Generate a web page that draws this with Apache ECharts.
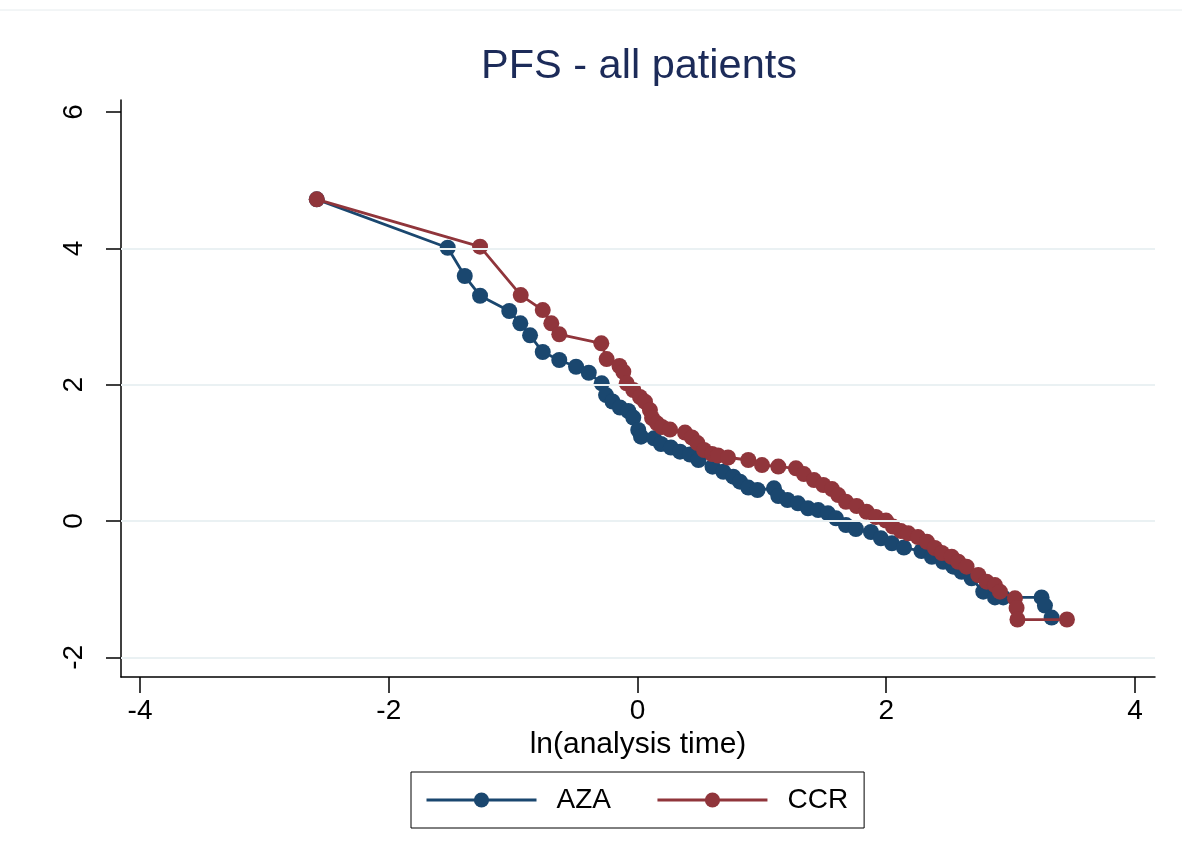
<!DOCTYPE html>
<html>
<head>
<meta charset="utf-8">
<script src="https://cdn.jsdelivr.net/npm/echarts@6/dist/echarts.min.js"></script>
<style>
html,body{margin:0;padding:0;background:#fff;}
#c{width:1182px;height:862px;}
</style>
</head>
<body>
<div id="c"></div>
<script>
// ---- data (ln(analysis time), log-log survival) ----
const azaX = [-2.579,-1.526,-1.389,-1.266,-1.031,-0.942,-0.864,-0.762,-0.629,-0.494,-0.392,-0.288,-0.253,-0.201,-0.141,-0.074,-0.034,0.006,0.028,0.133,0.189,0.269,0.342,0.422,0.490,0.603,0.690,0.770,0.824,0.891,0.965,1.097,1.132,1.206,1.290,1.371,1.453,1.531,1.596,1.676,1.756,1.877,1.957,2.046,2.142,2.283,2.367,2.458,2.539,2.606,2.686,2.780,2.874,2.941,3.249,3.276,3.330];
const azaY = [4.719,4.009,3.594,3.305,3.081,2.900,2.724,2.479,2.362,2.263,2.175,2.020,1.848,1.753,1.665,1.614,1.518,1.335,1.237,1.213,1.130,1.078,1.017,0.976,0.895,0.797,0.723,0.650,0.577,0.491,0.455,0.480,0.367,0.308,0.260,0.186,0.161,0.113,0.040,-0.059,-0.117,-0.161,-0.254,-0.327,-0.389,-0.440,-0.524,-0.597,-0.670,-0.744,-0.841,-1.037,-1.120,-1.120,-1.120,-1.240,-1.416];
const ccrX = [-2.579,-1.266,-0.939,-0.762,-0.693,-0.629,-0.291,-0.248,-0.145,-0.114,-0.087,-0.034,0.020,0.060,0.100,0.117,0.157,0.197,0.261,0.382,0.438,0.482,0.535,0.599,0.647,0.728,0.891,1.001,1.132,1.274,1.338,1.419,1.494,1.564,1.614,1.676,1.762,1.842,1.917,1.998,2.054,2.118,2.177,2.255,2.327,2.391,2.448,2.526,2.579,2.646,2.740,2.807,2.874,2.914,3.035,3.048,3.055,3.453];
const ccrY = [4.719,4.024,3.315,3.095,2.900,2.739,2.607,2.376,2.274,2.190,2.020,1.922,1.819,1.750,1.628,1.511,1.433,1.379,1.342,1.298,1.225,1.144,1.042,0.983,0.961,0.932,0.895,0.821,0.799,0.773,0.689,0.601,0.528,0.469,0.381,0.283,0.220,0.136,0.059,0.007,-0.081,-0.147,-0.180,-0.235,-0.304,-0.396,-0.469,-0.524,-0.597,-0.670,-0.792,-0.890,-0.939,-1.037,-1.134,-1.276,-1.445,-1.445];
const xTicks = [-4,-2,0,2,4];
const yTicks = [-2,0,2,4,6];
const yGrid = [-2,0,2,4];
const seriesNames = ['AZA','CCR'];
const titleText = 'PFS - all patients';
const xTitle = 'ln(analysis time)';

const FONT = '"Liberation Sans", Arial, Helvetica, sans-serif';
const BLUE = '#1a476f', RED = '#90353b';
const pairs = (xs, ys) => xs.map((v, i) => [v, ys[i]]);

const chart = echarts.init(document.getElementById('c'), null, {renderer: 'canvas'});
chart.setOption({
  backgroundColor: '#fff',
  animation: false,
  graphic: [
    {type: 'line', shape: {x1: 0, y1: 10, x2: 1182, y2: 10}, style: {stroke: '#e6ecee', lineWidth: 1}, silent: true},
    {type: 'text', x: 639, y: 46, style: {text: titleText, fill: '#1c2b59', font: '41.5px ' + FONT, textAlign: 'center', textVerticalAlign: 'top'}}
  ],
  grid: {left: 121, right: 27, top: 100, bottom: 185, containLabel: false},
  legend: {
    data: seriesNames,
    left: 411, top: 772,
    orient: 'horizontal',
    itemWidth: 110, itemHeight: 19, itemGap: 45,
    padding: [13, 16, 13, 14],
    borderColor: '#000', borderWidth: 1,
    lineStyle: {width: 3},
    textStyle: {fontFamily: FONT, fontSize: 28, color: '#000', padding: [0, 0, 0, 15], lineHeight: 30}
  },
  xAxis: {
    type: 'value', min: -4.153, max: 4.161,
    name: xTitle, nameLocation: 'middle', nameGap: 51,
    nameTextStyle: {fontFamily: FONT, fontSize: 30, color: '#000'},
    axisLine: {show: true, onZero: false, lineStyle: {color: '#000', width: 1.5}},
    axisTick: {show: true, length: 16, customValues: xTicks, lineStyle: {color: '#000', width: 1.5}},
    axisLabel: {customValues: xTicks, margin: 20, fontFamily: FONT, fontSize: 28, color: '#000'},
    splitLine: {show: false}
  },
  yAxis: {
    type: 'value', min: -2.288, max: 6.176,
    axisLine: {show: true, onZero: false, lineStyle: {color: '#000', width: 1.5}},
    axisTick: {show: true, length: 15, customValues: yTicks, lineStyle: {color: '#000', width: 1.5}},
    axisLabel: {customValues: yTicks, rotate: 90, margin: 33, fontFamily: FONT, fontSize: 28, color: '#000'},
    splitLine: {show: false}
  },
  series: [
    {
      name: 'grid', type: 'line', data: [], silent: true, z: 1,
      markLine: {
        silent: true, symbol: 'none', label: {show: false},
        lineStyle: {color: '#eaf1f3', width: 2, type: 'solid'},
        data: yGrid.map(v => ({yAxis: v}))
      }
    },
    {
      name: seriesNames[0], type: 'line', data: pairs(azaX, azaY), z: 3,
      symbol: 'circle', symbolSize: 16, showAllSymbol: true,
      itemStyle: {color: BLUE}, lineStyle: {color: BLUE, width: 2.8}
    },
    {
      name: seriesNames[1], type: 'line', data: pairs(ccrX, ccrY), z: 4,
      symbol: 'circle', symbolSize: 16, showAllSymbol: true,
      itemStyle: {color: RED}, lineStyle: {color: RED, width: 2.8}
    }
  ]
});
</script>
</body>
</html>
